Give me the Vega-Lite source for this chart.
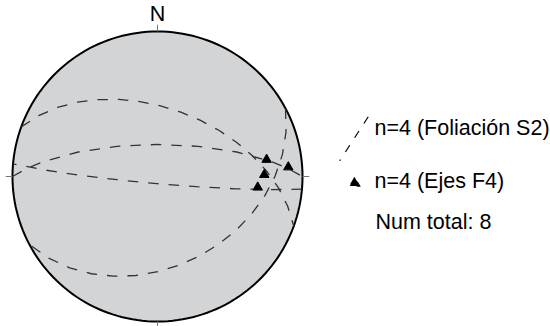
{
  "$schema": "https://vega.github.io/schema/vega-lite/v6.json",
  "width": 550,
  "height": 326,
  "autosize": {"type": "none"},
  "padding": 0,
  "background": "white",
  "config": {"view": {"stroke": null}},
  "layer": [
    {
      "data": {"sphere": true},
      "mark": {"type": "geoshape", "fill": "#d3d4d6", "stroke": "#000000", "strokeWidth": 2},
      "projection": {"type": "azimuthalEqualArea", "rotate": [0, 90, 0], "scale": 102.53, "translate": [157.5, 176.5], "clipAngle": 90.01}
    },
    {
      "data": {
        "values": [
          {"type": "Feature", "properties": {"plano": "A"}, "geometry": {"type": "LineString", "coordinates": [[290, 0], [20, -51], [110, 0]]}},
          {"type": "Feature", "properties": {"plano": "B"}, "geometry": {"type": "LineString", "coordinates": [[270, 0], [0, -72], [90, 0]]}},
          {"type": "Feature", "properties": {"plano": "C"}, "geometry": {"type": "LineString", "coordinates": [[95, 0], [185, -86], [275, 0]]}},
          {"type": "Feature", "properties": {"plano": "D"}, "geometry": {"type": "LineString", "coordinates": [[62, 0], [152, -38], [242, 0]]}}
        ]
      },
      "mark": {"type": "geoshape", "filled": false, "fill": null, "stroke": "#333333", "strokeWidth": 1.3, "strokeDash": [10.5, 10]},
      "projection": {"type": "azimuthalEqualArea", "rotate": [0, 90, 0], "scale": 102.53, "translate": [157.5, 176.5], "clipAngle": 90.01}
    },
    {
      "data": {
        "values": [
          {"serie": "n=4 (Ejes F4)", "nota": "Num total: 8", "trend": 80.5, "lat": -24.7},
          {"serie": "n=4 (Ejes F4)", "nota": "Num total: 8", "trend": 85.3, "lat": -10.4},
          {"serie": "n=4 (Ejes F4)", "nota": "Num total: 8", "trend": 88.3, "lat": -27.2},
          {"serie": "n=4 (Ejes F4)", "nota": "Num total: 8", "trend": 95.4, "lat": -31.2}
        ]
      },
      "mark": {"type": "point", "filled": true, "size": 90, "stroke": "#000000", "strokeWidth": 1, "opacity": 1},
      "encoding": {
        "longitude": {"field": "trend", "type": "quantitative"},
        "latitude": {"field": "lat", "type": "quantitative"},
        "shape": {
          "field": "serie",
          "type": "nominal",
          "scale": {
            "domain": ["n=4 (Foliación S2)", "n=4 (Ejes F4)"],
            "range": ["M2.7,-2.4L-3,6.4", "triangle-up"]
          },
          "legend": {
            "title": null,
            "orient": "none",
            "legendX": 344,
            "legendY": 118,
            "labelFont": "Liberation Sans",
            "labelFontSize": 21.5,
            "labelColor": "#000000",
            "labelLimit": 400,
            "labelOffset": 9,
            "rowPadding": 6,
            "symbolSize": 100,
            "symbolStrokeColor": "#000000",
            "symbolFillColor": "#000000",
            "symbolStrokeWidth": 1.2,
            "symbolDash": [8, 9],
            "symbolOpacity": 1
          }
        },
        "color": {
          "field": "nota",
          "type": "nominal",
          "scale": {"domain": ["Num total: 8"], "range": ["#000000"]},
          "legend": {
            "title": null,
            "orient": "none",
            "legendX": 345,
            "legendY": 212,
            "labelFont": "Liberation Sans",
            "labelFontSize": 21.5,
            "labelColor": "#000000",
            "labelLimit": 400,
            "labelOffset": 9,
            "symbolSize": 100,
            "symbolType": "M0,0",
            "symbolOpacity": 0
          }
        }
      },
      "projection": {"type": "azimuthalEqualArea", "rotate": [0, 90, 0], "scale": 102.53, "translate": [157.5, 176.5], "clipAngle": 90.01}
    },
    {
      "data": {
        "values": [
          {"type": "Feature", "properties": {"marca": "N"}, "geometry": {"type": "LineString", "coordinates": [[0, 0], [0, 5.5]]}},
          {"type": "Feature", "properties": {"marca": "E"}, "geometry": {"type": "LineString", "coordinates": [[90, 0], [90, 5.5]]}},
          {"type": "Feature", "properties": {"marca": "S"}, "geometry": {"type": "LineString", "coordinates": [[180, 0], [180, 5.5]]}},
          {"type": "Feature", "properties": {"marca": "W"}, "geometry": {"type": "LineString", "coordinates": [[270, 0], [270, 5.5]]}}
        ]
      },
      "mark": {"type": "geoshape", "filled": false, "fill": null, "stroke": "#777777", "strokeWidth": 1},
      "projection": {"type": "azimuthalEqualArea", "rotate": [0, 90, 0], "scale": 102.53, "translate": [157.5, 176.5], "clipAngle": 120}
    },
    {
      "data": {"values": [{"etiqueta": "N", "lon": 0, "lat": 8.9}]},
      "mark": {"type": "text", "font": "Liberation Sans", "fontSize": 21.5, "color": "#000000", "baseline": "alphabetic", "align": "center"},
      "encoding": {
        "longitude": {"field": "lon", "type": "quantitative"},
        "latitude": {"field": "lat", "type": "quantitative"},
        "text": {"field": "etiqueta", "type": "nominal"}
      },
      "projection": {"type": "azimuthalEqualArea", "rotate": [0, 90, 0], "scale": 102.53, "translate": [157.5, 176.5], "clipAngle": 120}
    }
  ]
}
